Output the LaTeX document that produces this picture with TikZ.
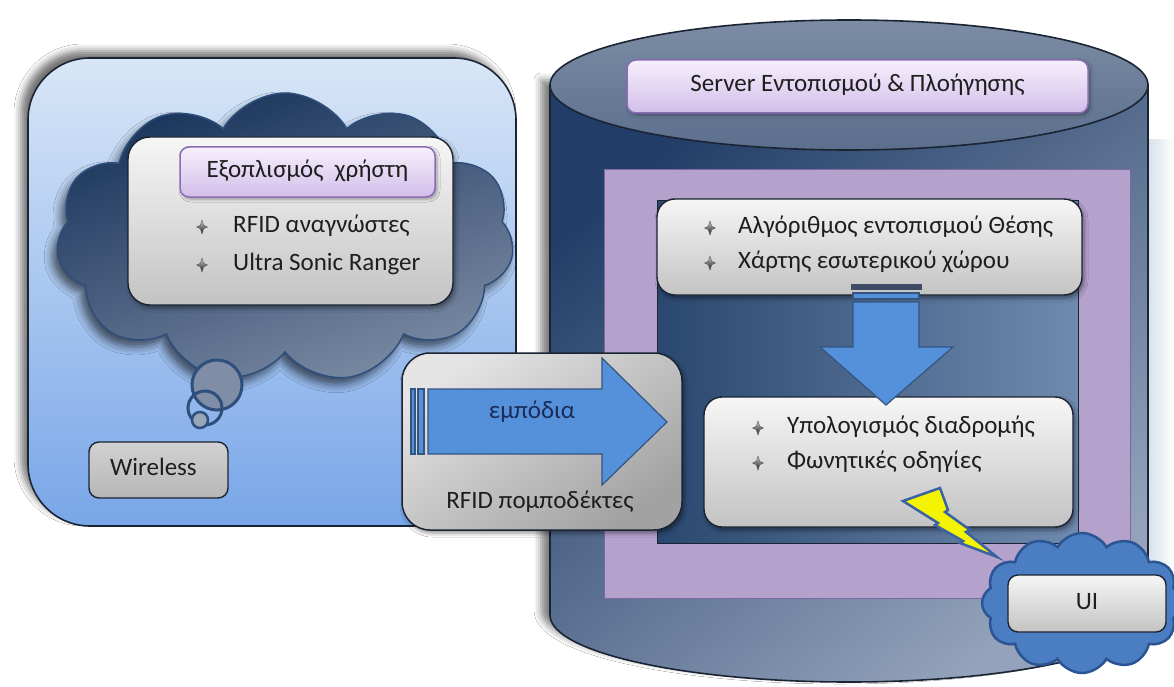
\documentclass[tikz,border=0pt]{standalone}
\usepackage{fontspec}
\setmainfont{Carlito}
\usetikzlibrary{shapes.symbols,shadows.blur}
\definecolor{edgedark}{HTML}{1B2433}
\definecolor{panelTop}{HTML}{D8E6F7}
\definecolor{panelMid}{HTML}{3F78CF}
\definecolor{panelBot}{HTML}{78A6E8}
\definecolor{cloudTop}{HTML}{19345B}
\definecolor{cloudBot}{HTML}{7A8AA3}
\definecolor{cloudEdge}{HTML}{2E4F7C}
\definecolor{boxTop}{HTML}{F6F6F6}
\definecolor{boxBot}{HTML}{C3C3C3}
\definecolor{purTop}{HTML}{F6F0FC}
\definecolor{purBot}{HTML}{D2BEEA}
\definecolor{purEdge}{HTML}{8B6DB4}
\definecolor{arrowBlue}{HTML}{5590DB}
\definecolor{arrowEdge}{HTML}{34557F}
\definecolor{cylDark}{HTML}{223E68}
\definecolor{cylLight}{HTML}{94A3BB}
\definecolor{cylTopA}{HTML}{7C8CA4}
\definecolor{cylTopB}{HTML}{5B6F8D}
\definecolor{frameLav}{HTML}{B4A1CC}
\definecolor{frameEdge}{HTML}{7A69A3}
\definecolor{innerL}{HTML}{2A476F}
\definecolor{innerR}{HTML}{6F8AAE}
\definecolor{boltYel}{HTML}{F4F400}
\definecolor{boltEdge}{HTML}{3B63A3}
\definecolor{uiCloud}{HTML}{4B7DC2}
\definecolor{uiEdge}{HTML}{2B5492}
\definecolor{txt}{HTML}{1E1E1E}
\definecolor{navytxt}{HTML}{1A2D58}
\definecolor{glow}{HTML}{D4DEEA}
\definecolor{bulTop}{HTML}{D0D0D0}
\definecolor{bulBot}{HTML}{141414}
\definecolor{stripeDark}{HTML}{3E4A66}
\definecolor{rfidTop}{HTML}{E4E4E4}
\definecolor{rfidBot}{HTML}{A2A2A2}
\definecolor{wireTop}{HTML}{D2D2D2}
\definecolor{wireBot}{HTML}{B6B6B6}
\definecolor{bubFill}{HTML}{7F8EA6}
\tikzset{
  bulletstar/.pic={\path[draw=bulBot!70, line width=0.4pt, top color=bulTop, bottom color=bulBot]
     (0,-7) -- (1.7,-1.7) -- (5.5,0) -- (1.7,1.7) -- (0,7) -- (-1.7,1.7) -- (-5.5,0) -- (-1.7,-1.7) -- cycle;},
  txtstyle/.style={font=\fontsize{25}{29}\selectfont, text=txt, inner sep=0pt, text height=17pt, text depth=6pt},
  linetxt/.style={txtstyle, anchor=west},
  whitebox/.style={draw=edgedark, line width=1.4pt, rounded corners=18pt, top color=boxTop, bottom color=boxBot,
     inner sep=0pt, blur shadow={shadow xshift=2pt, shadow yshift=-3pt, shadow blur radius=4pt, shadow opacity=45}},
  purplebox/.style={draw=purEdge, line width=1.5pt, rounded corners=9pt, top color=purTop, bottom color=purBot,
     inner sep=0pt, txtstyle, blur shadow={shadow xshift=2pt, shadow yshift=-2pt, shadow blur radius=3pt, shadow opacity=35}},
  greybox/.style={draw=edgedark, line width=1.4pt, rounded corners=10pt, top color=wireTop, bottom color=wireBot, inner sep=0pt},
  blockarrow/.style={draw=arrowEdge, line width=1.2pt, fill=arrowBlue},
}
\begin{document}
\begin{tikzpicture}[x=1pt,y=-1pt]
\useasboundingbox (0,0) rectangle (1174,687);
\fill[white] (0,0) rectangle (1174,687);

% ---------------- left panel ----------------
\node[draw=edgedark, line width=1.6pt, rounded corners=62pt, minimum width=488pt, minimum height=468pt,
      top color=panelTop, middle color=panelMid, bottom color=panelBot,
      blur shadow={shadow xshift=-7pt, shadow yshift=7pt, shadow blur radius=7pt, shadow opacity=55}]
      (userpanel) at (272,292) {};

\node[cloud, cloud puffs=11, cloud puff arc=120, cloud ignores aspect, minimum width=458pt, minimum height=290pt,
      draw=cloudEdge, line width=1.5pt, top color=cloudTop, bottom color=cloudBot, shading angle=20,
      blur shadow={shadow xshift=-5pt, shadow yshift=-7pt, shadow blur radius=8pt, shadow opacity=60}]
      (thought) at (285,238) {};

\draw[cloudEdge, line width=3pt, fill=bubFill] (217,385) circle[radius=25];
\draw[cloudEdge, line width=3pt] (205,408) circle[radius=17];
\draw[cloudEdge, line width=2.5pt, fill=bubFill!80!white] (200,420) circle[radius=8];

\node[whitebox, rounded corners=22pt, minimum width=325pt, minimum height=168pt] (userbox) at (290.5,221) {};
\node[purplebox, minimum width=255pt, minimum height=50pt] (usertitle) at (307.5,172) {Εξοπλισμός\ \ χρήστη};
\pic at (202,227) {bulletstar};
\pic at (202,265) {bulletstar};
\node[linetxt] (ub1) at (233,227) {RFID αναγνώστες};
\node[linetxt] (ub2) at (233,265) {Ultra Sonic Ranger};

\node[greybox, minimum width=139pt, minimum height=56pt] (wireless) at (158.5,470) {};
\node[linetxt] (wirelesstxt) at (110,470) {Wireless};

% ---------------- cylinder (server) ----------------
\fill[left color=glow, right color=white] (1146,140) rectangle (1174,570);
\path[draw=edgedark, line width=1.6pt, top color=cylDark, bottom color=cylLight, shading angle=40,
      blur shadow={shadow xshift=-9pt, shadow yshift=5pt, shadow blur radius=7pt, shadow opacity=50}]
      (550,85) -- (550,615) arc[start angle=180, end angle=0, x radius=299, y radius=67] -- (1148,85) -- cycle;
\path[draw=edgedark, line width=1.6pt, top color=cylTopA, bottom color=cylTopB]
      (849,85) ellipse [x radius=299, y radius=65];

\node[purplebox, minimum width=461pt, minimum height=53pt] (servertitle) at (857.5,86.5) {Server Εντοπισμού \& Πλοήγησης};

\node[draw=frameEdge, line width=1pt, fill=frameLav, minimum width=526pt, minimum height=428pt, inner sep=0pt] (frame) at (867,384) {};
\node[draw=edgedark, line width=1pt, left color=innerL, right color=innerR, minimum width=421pt, minimum height=343pt, inner sep=0pt] (innerpanel) at (867.5,371.5) {};

\node[whitebox, minimum width=425pt, minimum height=96pt] (algobox) at (869.5,247) {};
\pic at (710,228) {bulletstar};
\pic at (710,263) {bulletstar};
\node[linetxt] (ab1) at (738,228) {Αλγόριθμος εντοπισμού Θέσης};
\node[linetxt] (ab2) at (738,263) {Χάρτης εσωτερικού χώρου};

\node[whitebox, minimum width=369pt, minimum height=130pt] (routebox) at (888.5,462) {};
\pic at (758,428) {bulletstar};
\pic at (758,463) {bulletstar};
\node[linetxt] (rb1) at (787,428) {Υπολογισμός διαδρομής};
\node[linetxt] (rb2) at (787,463) {Φωνητικές οδηγίες};

% down arrow
\fill[stripeDark] (851,284) rectangle (922,290);
\draw[blockarrow] (853,293) rectangle (919,299);
\draw[blockarrow] (853,302) -- (919,302) -- (919,347) -- (953,347) -- (886,405) -- (820,347) -- (853,347) -- cycle;

% lightning
\draw[boltEdge, line width=2.5pt, fill=boltYel, line join=miter]
  (903,501) -- (940,488) -- (948,510) -- (945,512) -- (970,530) -- (966,532) -- (997,557)
  -- (960,543) -- (963,541) -- (935,525) -- (938,523) -- cycle;

% UI
\node[cloud, cloud puffs=12, cloud puff arc=120, cloud ignores aspect, minimum width=200pt, minimum height=140pt,
      draw=uiEdge, line width=2.5pt, fill=uiCloud] (uicloud) at (1082,603) {};
\node[greybox, top color=boxTop, bottom color=boxBot, minimum width=158pt, minimum height=57pt, txtstyle] (uibox) at (1087,603.5) {UI};

% ---------------- RFID box ----------------
\node[draw=edgedark, line width=1.5pt, rounded corners=28pt, top color=rfidTop, bottom color=rfidBot, shading angle=35,
      minimum width=280pt, minimum height=177pt, inner sep=0pt,
      blur shadow={shadow xshift=2pt, shadow yshift=-3pt, shadow blur radius=4pt, shadow opacity=45}]
      (rfidbox) at (542,441.5) {};
\draw[blockarrow] (411,389) rectangle (415,454);
\draw[blockarrow] (418,389) rectangle (424,454);
\draw[blockarrow] (428,389) -- (602,389) -- (602,358) -- (667,422) -- (602,485) -- (602,454) -- (428,454) -- cycle;
\node[txtstyle, text=navytxt] (obst) at (532,413) {εμπόδια};
\node[txtstyle] (rfidtxt) at (540,503) {RFID πομποδέκτες};
\end{tikzpicture}
\end{document}
